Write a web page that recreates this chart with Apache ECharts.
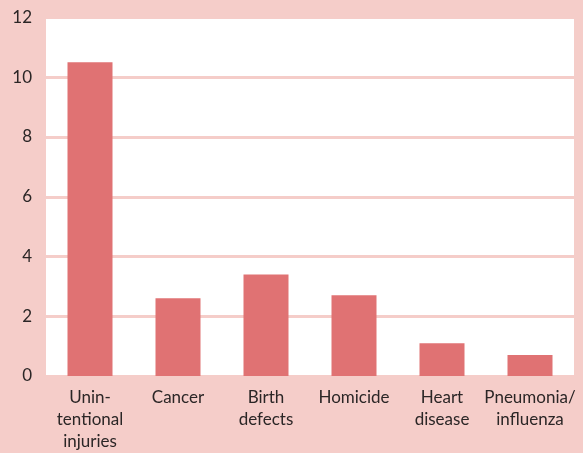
<!DOCTYPE html>
<html>
<head>
<meta charset="utf-8">
<script src="https://cdn.jsdelivr.net/npm/echarts@6/dist/echarts.min.js"></script>
<style>
  html, body { margin: 0; padding: 0; background: #f5cdc9; }
  #chart { width: 583px; height: 453px; }
</style>
</head>
<body>
<div id="chart"></div>
<script>
// Causes of death, rate per 100,000
const categories = [
  'Unin-\ntentional\ninjuries',
  'Cancer',
  'Birth\ndefects',
  'Homicide',
  'Heart\ndisease',
  'Pneumonia/\ninfluenza'
];
const rates = [10.5, 2.6, 3.4, 2.7, 1.1, 0.7];
const yTicks = { min: 0, max: 12, interval: 2 };

const bg = '#f5cdc9';
const barColor = '#e07273';
const textColor = '#2b2626';
const fontFamily = 'Lato, "Noto Sans", sans-serif';

const chart = echarts.init(document.getElementById('chart'), null, { renderer: 'canvas' });
chart.setOption({
  backgroundColor: bg,
  animation: false,
  grid: {
    left: 46, right: 9, top: 17.5, bottom: 75.5,
    show: true, backgroundColor: '#ffffff', borderWidth: 0,
    containLabel: false
  },
  xAxis: {
    type: 'category',
    data: categories,
    axisLine: { show: false },
    axisTick: { show: false },
    axisLabel: {
      color: textColor, fontFamily, fontSize: 17, lineHeight: 22,
      margin: 11, interval: 0
    }
  },
  yAxis: {
    type: 'value',
    min: yTicks.min, max: yTicks.max, interval: yTicks.interval,
    axisLine: { show: false },
    axisTick: { show: false },
    axisLabel: { color: textColor, fontFamily, fontSize: 17, margin: 14 },
    splitLine: { show: true, lineStyle: { color: bg, width: 3 } }
  },
  series: [{
    type: 'bar',
    data: rates,
    barWidth: 45,
    itemStyle: { color: barColor },
    z: 1
  }]
});
</script>
</body>
</html>
